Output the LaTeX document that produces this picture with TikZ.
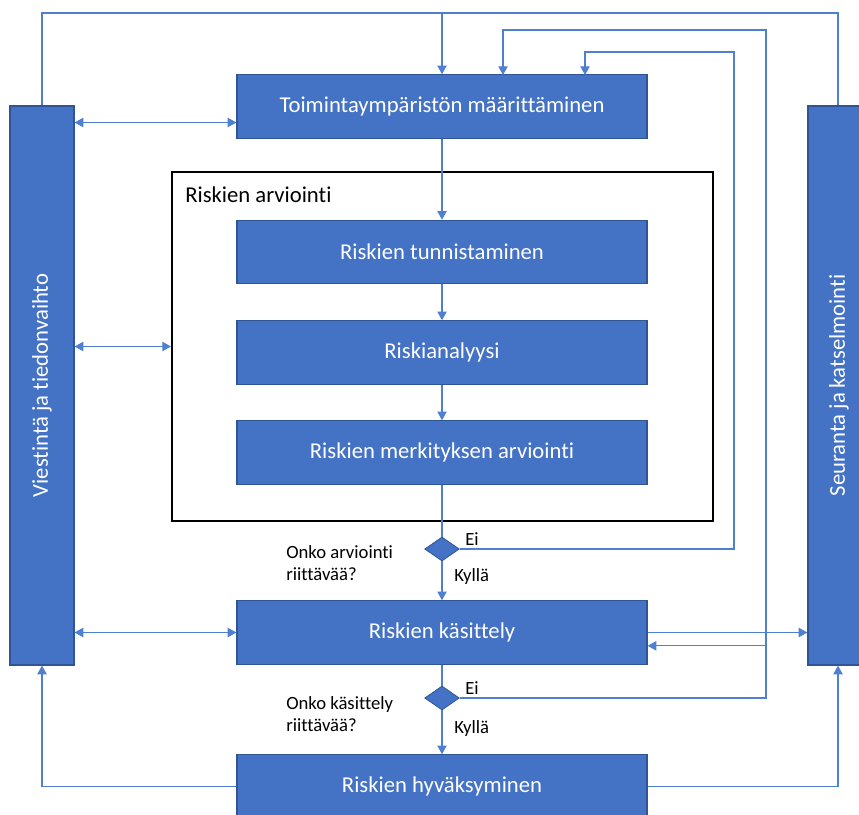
\documentclass[tikz,border=0pt]{standalone}
\usepackage{fontspec}
\setmainfont{Carlito}[Ligatures=NoCommon]
\usetikzlibrary{arrows.meta,shapes.geometric}
\definecolor{boxblue}{HTML}{4472C4}
\definecolor{boxedge}{HTML}{2F5597}
\definecolor{lineblue}{HTML}{4F7FD0}
\begin{document}
\begin{tikzpicture}[x=0.75pt,y=-0.75pt,
  bluebox/.style={rectangle,fill=boxblue,draw=boxedge,line width=0.9pt,text=white,
    font=\fontsize{17}{20}\selectfont,inner sep=0pt,minimum width=307.5pt,minimum height=47.5pt},
  sidebar/.style={rectangle,fill=boxblue,draw=boxedge,line width=0.9pt,text=white,
    font=\fontsize{17}{20}\selectfont,inner sep=0pt,minimum height=419.25pt},
  dec/.style={diamond,fill=boxblue,draw=boxedge,line width=0.6pt,inner sep=0pt,
    minimum width=26pt,minimum height=18pt,aspect=1.4},
  conn/.style={draw=lineblue,line width=0.8pt},
  arr/.style={conn,-{Triangle[length=6.5pt,width=7pt]}},
  darr/.style={conn,{Triangle[length=6.5pt,width=7pt]}-{Triangle[length=6.5pt,width=7pt]}},
  lbl/.style={font=\fontsize{14}{16.2}\selectfont,text=black,inner sep=0pt,align=left,anchor=west}]
\useasboundingbox (0,0) rectangle (859,814);
% frame
\node[draw=black,line width=1.5pt,minimum width=405.75pt,minimum height=261.75pt,inner sep=0pt] (frame) at (442.5,346.5) {};
\node[anchor=west,inner sep=0pt,font=\fontsize{17}{20}\selectfont] (ftitle) at (185,195) {Riskien arviointi};
% boxes
\node[bluebox] (toim) at (442,106.5) {Toimintaympäristön määrittäminen};
\node[bluebox] (tunn) at (442,252) {Riskien tunnistaminen};
\node[bluebox] (anal) at (442,352.5) {Riskianalyysi};
\node[bluebox] (merk) at (442,452.5) {Riskien merkityksen arviointi};
\node[bluebox] (kas) at (442,632.5) {Riskien käsittely};
\node[bluebox] (hyv) at (442,786.5) {Riskien hyväksyminen};
\node[sidebar,minimum width=48pt] (lb) at (42,385.5) {};
\node[rotate=90,text=white,font=\fontsize{17}{20}\selectfont] (lbt) at (42,385.5) {Viestintä ja tiedonvaihto};
\node[sidebar,minimum width=45pt] (rb) at (838,385.5) {};
\node[rotate=90,text=white,font=\fontsize{17}{20}\selectfont] (rbt) at (839,385.5) {Seuranta ja katselmointi};
% diamonds
\node[dec] (d1) at (442,549) {};
\node[dec] (d2) at (442,698) {};
% labels
\node[lbl] (ei1) at (465,539) {Ei};
\node[lbl] (ky1) at (454,577) {Kyllä};
\node[lbl] (q1) at (286,563) {Onko arviointi\\riittävää?};
\node[lbl] (ei2) at (465,688) {Ei};
\node[lbl] (ky2) at (454,729) {Kyllä};
\node[lbl] (q2) at (286,714) {Onko käsittely\\riittävää?};
% coordinates
\coordinate (tl) at (42,13);
\coordinate (tr) at (838,13);
\coordinate (l2) at (766,30);
\coordinate (l3) at (734,52);
\coordinate (t2) at (503,75);
\coordinate (t3) at (585,75);
\coordinate (kin) at ([yshift=-10pt]kas.east);
\coordinate (tin) at ([yshift=-12pt]toim.west);
% top loop
\draw[conn] (lb.north) -- (tl) -- (tr) -- (rb.north);
\draw[arr] (toim.north |- tl) -- (toim.north);
\draw[arr] (d2.east) -| (l2) -| (t2);
\draw[arr] (d1.east) -| (l3) -| (t3);
\draw[arr] (l2 |- kin) -- (kin);
\draw[arr] (kas.east) -- (kas.east -| rb.west);
% main chain
\draw[arr] (toim.south) -- (tunn.north);
\draw[arr] (tunn.south) -- (anal.north);
\draw[arr] (anal.south) -- (merk.north);
\draw[conn] (merk.south) -- (d1.north);
\draw[arr] (d1.south) -- (kas.north);
\draw[conn] (kas.south) -- (d2.north);
\draw[arr] (d2.south) -- (hyv.north);
% left double arrows
\draw[darr] (lb.east |- tin) -- (tin);
\draw[darr] (lb.east |- frame.west) -- (frame.west);
\draw[darr] (lb.east |- kas.west) -- (kas.west);
% bottom returns
\draw[arr] (hyv.west) -| (lb.south);
\draw[arr] (hyv.east) -| (rb.south);
\end{tikzpicture}
\end{document}
